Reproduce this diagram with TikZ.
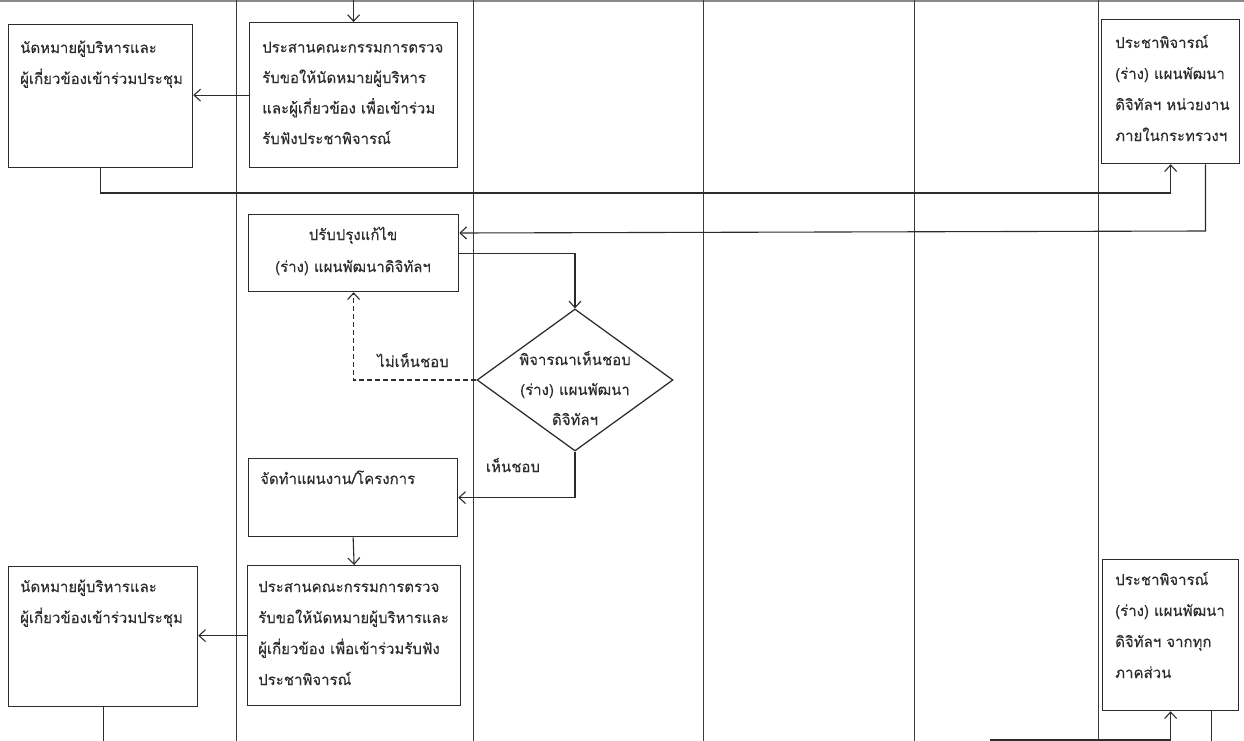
\documentclass[tikz,border=0pt]{standalone}
\usepackage{fontspec}
\newfontfamily\thai[Script=Thai,FakeBold=0.15]{Loma}
\usetikzlibrary{arrows.meta,shapes.geometric,calc}
\definecolor{ink}{HTML}{2C2C2C}
\definecolor{lane}{HTML}{3A3A46}
\definecolor{rule}{HTML}{8A8A8A}
\begin{document}
\begin{tikzpicture}[x=1pt,y=-1pt,
  box/.style={draw=ink,line width=1.25pt,rectangle,inner sep=0pt,anchor=north west},
  decide/.style={draw=ink,line width=1.25pt,diamond,inner sep=0pt,minimum width=196pt,minimum height=142pt},
  txt/.style={font=\thai\fontsize{15}{31}\selectfont,text=ink,inner sep=0pt,align=left,anchor=base west},
  ctxt/.style={font=\thai\fontsize{15}{31}\selectfont,text=ink,inner sep=0pt,align=center,anchor=base},
  flow/.style={draw=ink,line width=1.1pt,-{Straight Barb[length=6.5pt,width=12pt,line width=1.1pt]}},
  plain/.style={draw=ink,line width=1.1pt},
  laneline/.style={draw=lane,line width=1pt}]
\useasboundingbox (0,0) rectangle (1244,741);
\fill[white] (0,0) rectangle (1244,741);

% lane borders
\draw[rule,line width=1.2pt] (0,1) -- (1244,1);
\foreach \lx in {236,473,703,914,1098}
  \draw[laneline] (\lx,0) -- (\lx,741);

% process boxes
\node[box,minimum width=184pt,minimum height=143pt] (a1) at (8,24) {};
\node[box,minimum width=208pt,minimum height=145pt] (b1) at (249,22) {};
\node[box,minimum width=138pt,minimum height=144pt] (c1) at (1101,19) {};
\node[box,minimum width=210pt,minimum height=77pt] (b2) at (248,214) {};
\node[decide] (d) at (575,380) {};
\node[box,minimum width=209pt,minimum height=78pt] (b3) at (248,458) {};
\node[box,minimum width=213pt,minimum height=140pt] (b4) at (247,565) {};
\node[box,minimum width=189pt,minimum height=140pt] (a2) at (8,566) {};
\node[box,minimum width=136pt,minimum height=151pt] (c2) at (1102,559) {};

% box texts (each placed by the baseline of its last line)
\node[txt] (ta1) at (20,84) {นัดหมายผู้บริหารและ\\ผู้เกี่ยวข้องเข้าร่วมประชุม};
\node[txt,font=\thai\fontsize{15}{30.5}\selectfont] (tb1) at (262,144) {ประสานคณะกรรมการตรวจ\\รับขอให้นัดหมายผู้บริหาร\\และผู้เกี่ยวข้อง เพื่อเข้าร่วม\\รับฟังประชาพิจารณ์};
\node[txt] (tc1) at (1115,141) {ประชาพิจารณ์\\(ร่าง) แผนพัฒนา\\ดิจิทัลฯ หน่วยงาน\\ภายในกระทรวงฯ};
\node[ctxt,font=\thai\fontsize{15}{32}\selectfont] (tb2) at (353,272) {ปรับปรุงแก้ไข\\(ร่าง) แผนพัฒนาดิจิทัลฯ};
\node[ctxt,font=\thai\fontsize{15}{30}\selectfont] (td) at (575,425) {พิจารณาเห็นชอบ\\(ร่าง) แผนพัฒนา\\ดิจิทัลฯ};
\node[txt] (tb3) at (260,484) {จัดทำแผนงาน/โครงการ};
\node[txt] (tb4) at (258,685) {ประสานคณะกรรมการตรวจ\\รับขอให้นัดหมายผู้บริหารและ\\ผู้เกี่ยวข้อง เพื่อเข้าร่วมรับฟัง\\ประชาพิจารณ์};
\node[txt] (ta2) at (20,623) {นัดหมายผู้บริหารและ\\ผู้เกี่ยวข้องเข้าร่วมประชุม};
\node[txt] (tc2) at (1115,678) {ประชาพิจารณ์\\(ร่าง) แผนพัฒนา\\ดิจิทัลฯ จากทุก\\ภาคส่วน};

% branch labels
\node[ctxt] (no) at (413,367) {ไม่เห็นชอบ};
\node[ctxt] (yes) at (513,472) {เห็นชอบ};

% free ends at the sheet edges
\coordinate (in1) at (b1.north |- 0,0);
\coordinate (out2) at (a2.south |- 0,741);
\coordinate (in2) at (990,740);
\coordinate (c1tap) at ($(c1.south west)!0.75!(c1.south east)$);
\coordinate (c2tap) at ($(c2.south west)!0.8!(c2.south east)$);
\coordinate (b2in) at ($(b2.north east)+(0,19)$);

% connectors
\draw[flow] (in1) -- (b1.north);
\draw[flow] (b1.west) -- (a1.east |- b1.west);
\draw[flow] (a1.south) -- (a1.south |- 0,193) -| (c1.south);
\draw[flow] (c1tap) -- (c1tap |- 0,231) -- (b2in);
\draw[flow] (b2.east) -| (d.north);
\draw[flow,dashed,dash pattern=on 5pt off 3pt] (d.west) -| (b2.south);
\draw[flow] (d.south) |- (b3.east);
\draw[flow] (b3.south) -- (b4.north);
\draw[flow] (b4.west) -- (a2.east |- b4.west);
\draw[plain] (a2.south) -- (out2);
\draw[flow] (in2) -| (c2.south);
\draw[plain] (c2tap) -- (c2tap |- 0,741);
\end{tikzpicture}
\end{document}
